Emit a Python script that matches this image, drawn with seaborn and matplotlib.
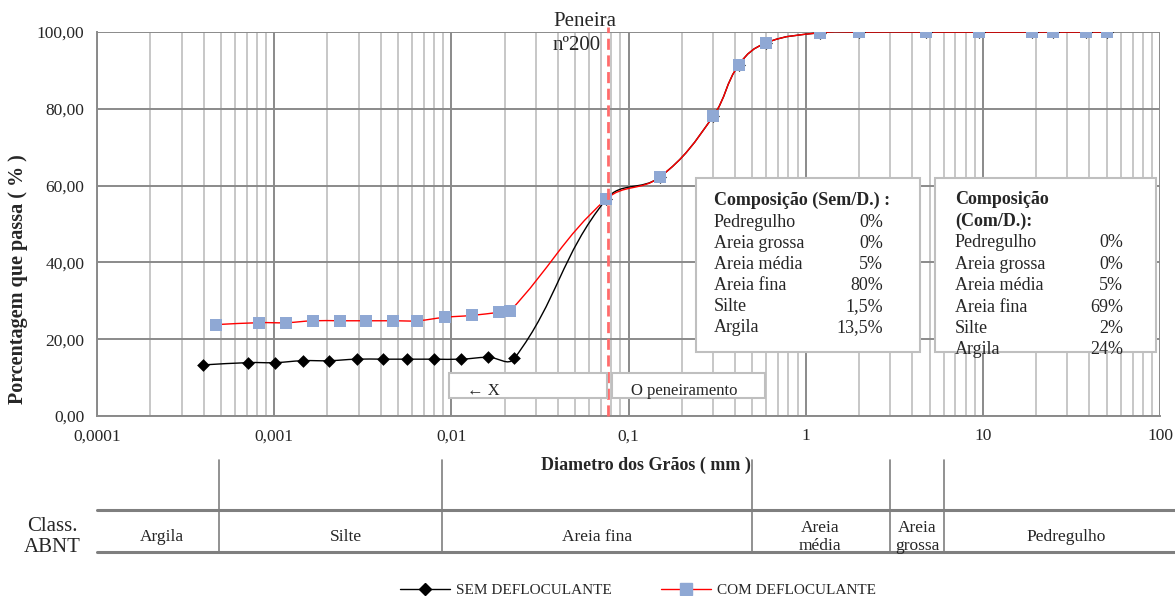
import numpy as np
import matplotlib
matplotlib.use("Agg")
import matplotlib.pyplot as plt
from matplotlib.path import Path
from matplotlib.patches import PathPatch, Rectangle
from matplotlib.lines import Line2D
from matplotlib.ticker import FixedLocator, FixedFormatter, LogLocator, NullFormatter
import seaborn as sns

# ---------- dados ----------
# peneiramento (mm / % que passa)
peneira_mm = [50, 38, 25, 19, 9.5, 4.8, 2.0, 1.2, 0.6, 0.42, 0.3, 0.15, 0.075]
com_peneira_pct = [100, 100, 100, 100, 100, 100, 100, 99.8, 97.2, 91.5, 78.0, 62.2, 56.5]
sem_peneira_pct = [100, 100, 100, 100, 100, 100, 100, 99.8, 97.2, 91.5, 78.0, 62.2, 56.5]

# sedimentação
com_sed_mm = [0.0214, 0.0186, 0.0131, 0.0092, 0.0064, 0.0047, 0.0033, 0.00235, 0.00166, 0.00117, 0.00082, 0.00047]
com_sed_pct = [27.3, 27.0, 26.2, 25.7, 24.8, 24.8, 24.8, 24.8, 24.8, 24.3, 24.3, 23.8]
sem_sed_mm = [0.0227, 0.0161, 0.0113, 0.0080, 0.00564, 0.00413, 0.00292, 0.00204, 0.00145, 0.00101, 0.000715, 0.000398]
sem_sed_pct = [15.0, 15.3, 14.8, 14.8, 14.8, 14.8, 14.8, 14.4, 14.4, 13.9, 13.9, 13.3]

peneira_200 = 0.077

y_ticks = [0, 20, 40, 60, 80, 100]
y_tick_labels = ["0,00", "20,00", "40,00", "60,00", "80,00", "100,00"]
x_ticks = [0.0001, 0.001, 0.01, 0.1, 1, 10, 100]
x_tick_labels = ["0,0001", "0,001", "0,01", "0,1", "1", "10", "100"]

comp_sem = [("Pedregulho", "0%"), ("Areia grossa", "0%"), ("Areia média", "5%"),
            ("Areia fina", "80%"), ("Silte", "1,5%"), ("Argila", "13,5%")]
comp_com = [("Pedregulho", "0%"), ("Areia grossa", "0%"), ("Areia média", "5%"),
            ("Areia fina", "69%"), ("Silte", "2%"), ("Argila", "24%")]

abnt_classes = ["Argila", "Silte", "Areia fina", "Areia\nmédia", "Areia\ngrossa", "Pedregulho"]

W, H = 1175, 596

sns.set_style("white")
plt.rcParams['font.family'] = ['Liberation Serif', 'DejaVu Serif']


def px(x, y):
    # pixel -> coordenadas da figura
    return x / W, 1 - y / H


def curva_suave(xs, ys, kx=177.2, ky=3.84, s=0.4):
    # curva suavizada estilo Excel: bezier em espaço de tela (log-x),
    # alças na direção da tangente, com comprimento proporcional ao segmento
    ordem = np.argsort(xs)
    P = np.column_stack([np.log10(np.asarray(xs, float)[ordem]) * kx,
                         np.asarray(ys, float)[ordem] * ky])
    n = len(P)
    d = np.hypot(*np.diff(P, axis=0).T)
    saida, entrada = [], []
    for i in range(n):
        T = P[min(i + 1, n - 1)] - P[max(i - 1, 0)]
        u = T / np.hypot(*T)
        dp = d[i - 1] if i > 0 else 0.0
        dn = d[i] if i < n - 1 else 0.0
        saida.append(P[i] + u * s * dn)
        entrada.append(P[i] - u * s * dp)

    def dados(q):
        return (10 ** (q[0] / kx), q[1] / ky)

    verts = [dados(P[0])]
    codes = [Path.MOVETO]
    for i in range(n - 1):
        verts += [dados(saida[i]), dados(entrada[i + 1]), dados(P[i + 1])]
        codes += [Path.CURVE4] * 3
    return Path(verts, codes)


fig = plt.figure(figsize=(W / 100, H / 100), dpi=100)
ax = fig.add_axes([97 / W, 180 / H, 1063 / W, 384 / H])
ax.set_xscale('log')
ax.set_xlim(1e-4, 100)
ax.set_ylim(0, 100)

sem_x = sem_sed_mm + peneira_mm
sem_y = sem_sed_pct + sem_peneira_pct
com_x = com_sed_mm + peneira_mm
com_y = com_sed_pct + com_peneira_pct

ax.add_patch(PathPatch(curva_suave(sem_x, sem_y), fill=False, edgecolor='black', lw=1.0, zorder=3))
ax.add_patch(PathPatch(curva_suave(com_x, com_y), fill=False, edgecolor='#ff0000', lw=1.0, zorder=3.5))

sns.scatterplot(x=sem_x, y=sem_y, ax=ax, marker='D', s=42, color='black',
                linewidth=0, zorder=4, legend=False)
sns.scatterplot(x=com_x, y=com_y, ax=ax, marker='s', s=80, color='#8fa8d4',
                linewidth=0, zorder=5, legend=False)

ax.axvline(peneira_200, ymin=0, ymax=1.012, color='#ff6b6b', lw=2, ls=(0, (4, 2)),
           clip_on=False, zorder=6)

# grade
ax.xaxis.set_major_locator(FixedLocator(x_ticks))
ax.xaxis.set_major_formatter(FixedFormatter(x_tick_labels))
ax.xaxis.set_minor_locator(LogLocator(base=10, subs=range(2, 10), numticks=20))
ax.xaxis.set_minor_formatter(NullFormatter())
ax.yaxis.set_major_locator(FixedLocator(y_ticks))
ax.yaxis.set_major_formatter(FixedFormatter(y_tick_labels))
ax.grid(which='major', axis='both', color='#8a8a8a', lw=1.4)
ax.grid(which='minor', axis='x', color='#c3c3c3', lw=1.3)
ax.set_axisbelow(True)
for s in ['top', 'right']:
    ax.spines[s].set_visible(False)
for s in ['left', 'bottom']:
    ax.spines[s].set_color('#8a8a8a')
    ax.spines[s].set_linewidth(1.4)
ax.tick_params(axis='x', which='both', length=0, pad=9, labelsize=12.5)
ax.tick_params(axis='y', length=5, width=1.2, color='#8a8a8a', pad=4, labelsize=12.5)

# textos do gráfico
fig.text(*px(553, 22), "Peneira", fontsize=15, va='center', ha='left')
fig.text(*px(553, 46), "nº200", fontsize=15, va='center', ha='left')
fig.text(*px(646, 465), "Diametro dos Grãos ( mm )", fontsize=13, fontweight='bold',
         ha='center', va='center')
fig.text(*px(18, 279), "Porcentagem que passa ( % )", fontsize=14.5, fontweight='bold',
         ha='center', va='center', rotation=90)

# caixas
def caixa(x0, y0, x1, y1):
    fx0, fy1 = px(x0, y0)
    fx1, fy0 = px(x1, y1)
    fig.patches.append(Rectangle((fx0, fy0), fx1 - fx0, fy1 - fy0, transform=fig.transFigure,
                                 facecolor='white', edgecolor='#bfbfbf', lw=1.5, zorder=1))

caixa(449, 373, 607, 398)
caixa(612, 373, 765, 398)
fig.text(*px(467, 391), "← X", fontsize=12, va='center')
fig.text(*px(631, 391), "O peneiramento", fontsize=12, va='center')

caixa(696, 178, 920, 352)
fig.text(*px(714, 200), "Composição (Sem/D.) :", fontsize=13, fontweight='bold', va='center')
for i, (nome, val) in enumerate(comp_sem):
    yy = 222 + i * 21.2
    fig.text(*px(714, yy), nome, fontsize=13, va='center')
    fig.text(*px(883, yy), val, fontsize=13, va='center', ha='right')

caixa(935, 178, 1156, 352)
fig.text(*px(955, 200), "Composição", fontsize=13, fontweight='bold', va='center')
fig.text(*px(955, 221), "(Com/D.):", fontsize=13, fontweight='bold', va='center')
for i, (nome, val) in enumerate(comp_com):
    yy = 243 + i * 21.4
    fig.text(*px(955, yy), nome, fontsize=13, va='center')
    fig.text(*px(1123, yy), val, fontsize=13, va='center', ha='right')

# tabela ABNT
for yl in [510, 552]:
    fig.add_artist(Line2D([97 / W, 1], [1 - yl / H] * 2, color='#7f7f7f', lw=2.2))
for xl in [219, 442, 752, 890, 944]:
    fig.add_artist(Line2D([xl / W] * 2, [1 - 460 / H, 1 - 552 / H], color='#7f7f7f', lw=1.2))
fig.text(*px(52, 537), "Class.\nABNT", fontsize=15, ha='center', va='center', linespacing=1.1)
abnt_x = [162, 346, 597, 820, 917, 1066]
for cx, nome in zip(abnt_x, abnt_classes):
    fig.text(*px(cx, 537), nome, fontsize=12.5, ha='center', va='center', linespacing=1.2)

# legenda
handles = [Line2D([], [], color='black', lw=1, marker='D', markersize=6),
           Line2D([], [], color='#ff0000', lw=1, marker='s', markersize=8,
                  markerfacecolor='#8fa8d4', markeredgecolor='#8fa8d4')]
fig.legend(handles, ["SEM DEFLOCULANTE", "COM DEFLOCULANTE"], loc='center',
           bbox_to_anchor=px(638, 590), ncol=2, frameon=False, fontsize=11,
           handlelength=3.3, handletextpad=0.4, columnspacing=3.2)

fig.savefig("out.png", dpi=100)
